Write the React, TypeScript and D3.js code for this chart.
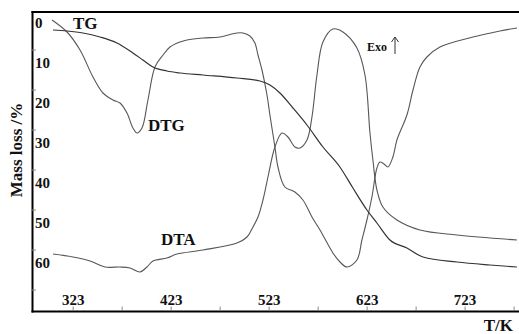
import React from "react";
import * as d3 from "d3";

// Temperature (K) and values (y units of the mass-loss axis, %)
const tgT = [302.4, 316.7, 333, 350.4, 367.7, 384, 394.2, 404.4, 418.7, 432, 455.5, 490.2, 513.6, 523.8, 534, 547.3, 561.6, 577.9, 595.2, 608.5, 622.8, 633, 646.3, 663.6, 680, 714.7, 748.3, 775.9];
const tgV = [1.75, 2, 2.5, 3.5, 5, 7.5, 9.25, 11, 12, 12.5, 13, 13.75, 14.5, 15.5, 17.5, 21.25, 25.5, 31, 36, 41.25, 46.75, 50, 54.25, 56.25, 58.5, 59.75, 60.5, 61];

const dtgT = [301.4, 316.7, 330, 343.2, 353.4, 363.6, 370.8, 377.9, 384, 388.1, 393.2, 399.3, 406.5, 414.7, 421.8, 432, 439.1, 455.5, 472.8, 490.2, 496.3, 503.4, 508.5, 511.6, 515.7, 520.8, 523.8, 528.9, 532, 539.1, 549.3, 557.5, 566.7, 574.9, 588.1, 595.3, 602.4, 612.6, 617.7, 622.8, 627.9, 633, 636.1, 640.2, 644.2, 649.3, 653.4, 663.6, 669.8, 676.9, 684, 697.3, 731, 758.5, 775.9];
const dtgV = [-0.75, 2.25, 6.75, 13.5, 17.5, 19.25, 20, 22.5, 26.25, 27.5, 26.25, 19.25, 11, 8, 6, 4.75, 4.25, 3.75, 3.5, 2.5, 2.5, 3.25, 5, 8, 11.75, 18, 23, 31, 36, 41, 42.25, 44.25, 48.5, 51.75, 57.5, 59.75, 61, 59.25, 54.25, 49.25, 43.5, 36.25, 34.75, 35.25, 36, 33.5, 29.25, 23, 16.75, 11, 8.5, 6, 3.5, 2, 1.25];

const dtaT = [302.4, 322.8, 340.2, 355.5, 370.8, 381, 391.2, 398.3, 404.4, 418.7, 428.9, 455.5, 490.2, 500.4, 506.5, 511.6, 516.7, 521.8, 528.9, 536.1, 542.2, 549.3, 554.4, 561.6, 566.7, 571.8, 577.9, 588.1, 598.3, 612.6, 620.8, 625.9, 628.9, 633, 639.1, 653.4, 676.9, 714.7, 775.9];
const dtaV = [57.75, 58.5, 59.5, 61, 61, 61.25, 62.25, 61, 59.5, 58.75, 57.75, 56.75, 55, 53.5, 51, 48.5, 44.25, 38.5, 31, 27.5, 28.5, 31, 31.25, 29.25, 23.5, 13, 4.75, 1.5, 2.25, 6.25, 13, 27.5, 34.25, 41.75, 46, 49.25, 51.75, 53, 54.25];

const xTickLabels = [323, 423, 523, 623, 723];
const xMinorTicks = [323, 373, 423, 473, 523, 573, 623, 673, 723, 773];
const yTickLabels = [0, 10, 20, 30, 40, 50, 60];
const yMinorTicks = [10, 20, 30, 40, 50, 60, 70];

const W = 519;
const H = 334;
const x = d3.scaleLinear().domain([282, 778]).range([33, 519]);
const y = d3.scaleLinear().domain([-2.75, 72]).range([12, 311]);

const smoothLine = d3
  .line<[number, number]>()
  .x((d) => x(d[0]))
  .y((d) => y(d[1]))
  .curve(d3.curveCatmullRom.alpha(0.5));

const monoLine = d3
  .line<[number, number]>()
  .x((d) => x(d[0]))
  .y((d) => y(d[1]))
  .curve(d3.curveMonotoneX);

const zip = (a: number[], b: number[]) => a.map((t, i) => [t, b[i]] as [number, number]);

const serif = "'Liberation Serif', 'Times New Roman', serif";

export default function App() {
  return (
    <svg
      width={W}
      height={H}
      style={{ position: "absolute", left: 0, top: 0, background: "#fff" }}
      fontFamily={serif}
    >
      <rect x={0} y={0} width={W} height={H} fill="#fff" />
      {/* curves */}
      <path d={smoothLine(zip(dtgT, dtgV)) || ""} fill="none" stroke="#575757" strokeWidth={1.1} />
      <path d={smoothLine(zip(dtaT, dtaV)) || ""} fill="none" stroke="#575757" strokeWidth={1.1} />
      <path d={monoLine(zip(tgT, tgV)) || ""} fill="none" stroke="#333" strokeWidth={1.2} />

      {/* frame */}
      <line x1={31.5} x2={W} y1={12} y2={12} stroke="#000" strokeWidth={2} />
      <line x1={32.5} x2={32.5} y1={11} y2={312.5} stroke="#000" strokeWidth={2} />
      <line x1={31.5} x2={W} y1={311.5} y2={311.5} stroke="#000" strokeWidth={2} />

      {/* x ticks */}
      {xMinorTicks.map((t) => (
        <line key={"xt" + t} x1={x(t)} x2={x(t)} y1={310} y2={306.5} stroke="#888" strokeWidth={1} />
      ))}
      {xTickLabels.map((t) => (
        <text key={"xl" + t} x={x(t)} y={305} textAnchor="middle" fontSize={15} fontWeight="bold" fill="#111">
          {t}
        </text>
      ))}

      {/* y ticks */}
      {yMinorTicks.map((v) => (
        <line key={"yt" + v} x1={31} x2={36} y1={y(v) - 13} y2={y(v) - 13} stroke="#888" strokeWidth={1} />
      ))}
      {yTickLabels.map((v) => (
        <text key={"yl" + v} x={35} y={y(v) + 5} textAnchor="start" fontSize={15} fontWeight="bold" fill="#111">
          {v}
        </text>
      ))}

      {/* axis titles */}
      <text
        transform={`translate(22,150) rotate(-90)`}
        textAnchor="middle"
        fontSize={17}
        fontWeight="bold"
        fill="#111"
      >
        Mass loss /%
      </text>
      <text x={513} y={331} textAnchor="end" fontSize={17} fontWeight="bold" fill="#111">
        T/K
      </text>

      {/* curve labels */}
      <text x={73} y={29} fontSize={17} fontWeight="bold" fill="#111">TG</text>
      <text x={148} y={131} fontSize={17} fontWeight="bold" fill="#111">DTG</text>
      <text x={161} y={245} fontSize={17} fontWeight="bold" fill="#111">DTA</text>
      <text x={367} y={51} fontSize={12} fontWeight="bold" fill="#111">Exo</text>
      <line x1={395} x2={395} y1={54} y2={37} stroke="#333" strokeWidth={1} />
      <path d="M391.5,42 L395,37 L398.5,42" fill="none" stroke="#333" strokeWidth={1} />
    </svg>
  );
}
